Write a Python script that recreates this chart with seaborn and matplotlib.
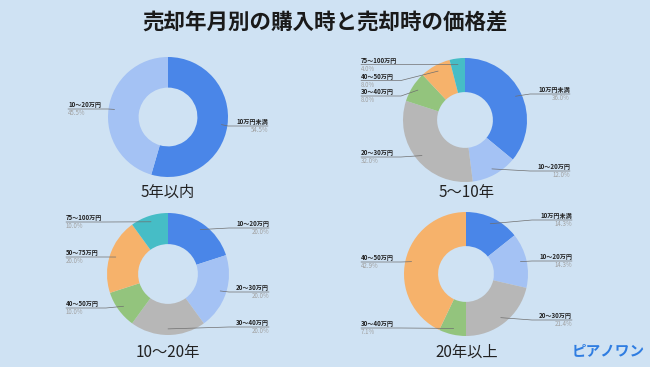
import matplotlib
matplotlib.use("Agg")
import matplotlib.pyplot as plt
import seaborn as sns
import numpy as np

sns.set_style("white")
plt.rcParams['font.family'] = ['Noto Sans CJK JP', 'DejaVu Sans']

title = "売却年月別の購入時と売却時の価格差"
periods = ["5年以内", "5〜10年", "10〜20年", "20年以上"]

cats_5 = ["10万円未満", "10〜20万円"]
vals_5 = [54.5, 45.5]
cats_5_10 = ["10万円未満", "10〜20万円", "20〜30万円", "30〜40万円", "40〜50万円", "75〜100万円"]
vals_5_10 = [36.0, 12.0, 32.0, 8.0, 8.0, 4.0]
cats_10_20 = ["10〜20万円", "20〜30万円", "30〜40万円", "40〜50万円", "50〜75万円", "75〜100万円"]
vals_10_20 = [20.0, 20.0, 20.0, 10.0, 20.0, 10.0]
cats_20 = ["10万円未満", "10〜20万円", "20〜30万円", "30〜40万円", "40〜50万円"]
vals_20 = [14.3, 14.3, 21.4, 7.1, 42.9]

palette = sns.color_palette(["#4a86e8", "#a4c2f4", "#b7b7b7", "#93c47d", "#f6b26b", "#46bdc6"])
bg = "#cfe2f3"

W, H = 650, 367
fig = plt.figure(figsize=(W / 100, H / 100), dpi=100, facecolor=bg)
ax = fig.add_axes([0, 0, 1, 1])
ax.set_facecolor(bg)

# layout in pixels, y measured from the top
panels = [
    dict(cats=cats_5, vals=vals_5, c=(168, 117), r=60, hole=0.49, lx=68, rx=268,
         sub=(168, 192), lab=[("R", 126), ("L", 109)]),
    dict(cats=cats_5_10, vals=vals_5_10, c=(465, 120), r=62, hole=0.45, lx=361, rx=570,
         sub=(467, 192), lab=[("R", 94), ("R", 171), ("L", 157), ("L", 96), ("L", 80.5), ("L", 64.5)]),
    dict(cats=cats_10_20, vals=vals_10_20, c=(168, 274), r=61, hole=0.49, lx=66, rx=269,
         sub=(168, 353), lab=[("R", 228), ("R", 292), ("R", 327), ("L", 308), ("L", 257), ("L", 222)]),
    dict(cats=cats_20, vals=vals_20, c=(466, 274), r=62, hole=0.45, lx=361, rx=572,
         sub=(467, 352), lab=[("R", 220), ("R", 261), ("R", 320), ("L", 328), ("L", 262)]),
]

ul = 40
for p, period in zip(panels, periods):
    cx, cy = p["c"]
    r = p["r"]
    wedges, _ = ax.pie(p["vals"], colors=palette[:len(p["vals"])], startangle=90,
                       counterclock=False, radius=r, center=(cx, H - cy),
                       wedgeprops=dict(width=r * (1 - p["hole"]), linewidth=0))
    for w, cat, v, (side, ly) in zip(wedges, p["cats"], p["vals"], p["lab"]):
        ang = np.deg2rad((w.theta1 + w.theta2) / 2)
        ax_ = cx + 0.9 * r * np.cos(ang)
        ay_ = (H - cy) + 0.9 * r * np.sin(ang)
        Y = H - ly
        if side == "L":
            x0, x1, ha = p["lx"], p["lx"] + ul, "left"
        else:
            x0, x1, ha = p["rx"], p["rx"] - ul, "right"
        ax.plot([x0, x1, ax_], [Y, Y, ay_], color="#6f6f6f", lw=0.5)
        ax.text(x0, Y + 4.1, cat, ha=ha, va="center", fontsize=4.4,
                fontweight="bold", color="#222222")
        ax.text(x0, Y - 4.3, f"{v:.1f}%", ha=ha, va="center", fontsize=4.4,
                color="#a0a0a0")
    ax.text(p["sub"][0], H - p["sub"][1], period, ha="center", va="center",
            fontsize=11, color="#222222")

ax.text(325, H - 23, title, ha="center", va="center", fontsize=15.5,
        fontweight="bold", color="#1a1a1a")
ax.text(608, H - 350, "ピアノワン", ha="center", va="center", fontsize=10.5,
        fontweight="bold", color="#2f7de1")

ax.set_xlim(0, W)
ax.set_ylim(0, H)
ax.set_aspect("equal")
ax.axis("off")

fig.savefig("out.png", dpi=100, facecolor=bg)
